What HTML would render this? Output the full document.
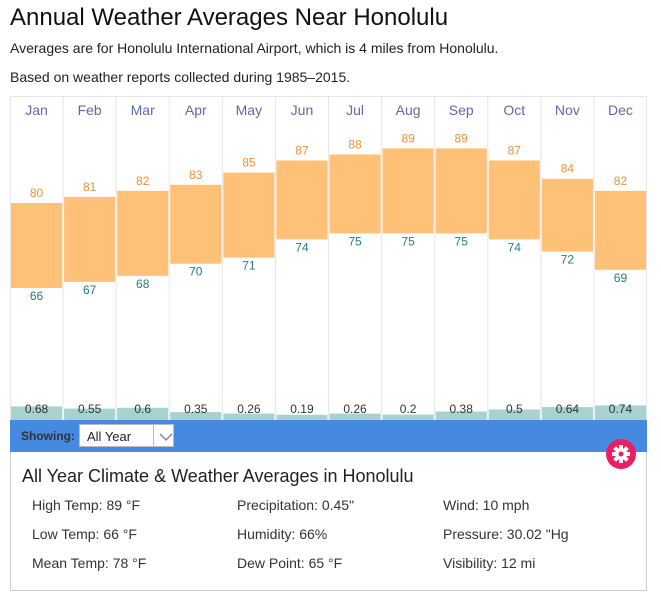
<!DOCTYPE html>
<html><head><meta charset="utf-8"><style>
body{margin:0;background:#fff;font-family:"Liberation Sans",Arial,sans-serif;color:#222;width:661px;height:606px;overflow:hidden;position:relative}
.t{position:absolute;left:10px;top:4px;font-size:24px;color:#111}
.s{position:absolute;left:10px;font-size:14px;color:#222}
#bar{position:absolute;left:10px;top:420px;width:637px;height:32px;background:#4589e0}
#panel{position:absolute;left:10px;top:452px;width:635px;height:138px;border:1px solid #ccc;border-top:none}
.sh{position:absolute;left:11px;top:9px;font-size:12px;font-weight:bold;color:#333}
.sel{position:absolute;left:69px;top:4px;width:95px;height:23px;background:#fff;border:1px solid #bbb;box-sizing:border-box;font-size:13px}
.sel span{position:absolute;left:7px;top:4px}
.sel i{position:absolute;left:73px;top:0;width:1px;height:21px;background:#bbb}
.gear{position:absolute;left:606px;top:439px;width:30px;height:30px;border-radius:50%;background:#e91e63}
.ph{position:absolute;left:11px;top:14px;font-size:18px;color:#222}
.c{position:absolute;font-size:14px;color:#333}
</style></head><body>
<div class="t">Annual Weather Averages Near Honolulu</div>
<div class="s" style="top:40px">Averages are for Honolulu International Airport, which is 4 miles from Honolulu.</div>
<div class="s" style="top:69px">Based on weather reports collected during 1985–2015.</div>
<svg id="ch" width="661" height="420" style="position:absolute;left:0;top:0"></svg>
<div id="bar"><div class="sh">Showing:</div><div class="sel"><span>All Year</span><i></i>
<svg width="20" height="20" style="position:absolute;left:76px;top:2px"><polyline points="4,7 10,13 16,7" fill="none" stroke="#888" stroke-width="1.5"/></svg></div></div>
<div class="gear"><svg width="30" height="30"><g transform="translate(15,15)" fill="#fff"><circle r="6"/><g id="tt"><rect x="-2" y="-9" width="4" height="5"/></g><use href="#tt" transform="rotate(45)"/><use href="#tt" transform="rotate(90)"/><use href="#tt" transform="rotate(135)"/><use href="#tt" transform="rotate(180)"/><use href="#tt" transform="rotate(225)"/><use href="#tt" transform="rotate(270)"/><use href="#tt" transform="rotate(315)"/><circle r="2.5" fill="#e91e63"/></g></svg></div>
<div id="panel">
<div class="ph">All Year Climate &amp; Weather Averages in Honolulu</div>
<div class="c" style="left:21px;top:45px">High Temp: 89 °F</div>
<div class="c" style="left:21px;top:74px">Low Temp: 66 °F</div>
<div class="c" style="left:21px;top:103px">Mean Temp: 78 °F</div>
<div class="c" style="left:226px;top:45px">Precipitation: 0.45"</div>
<div class="c" style="left:226px;top:74px">Humidity: 66%</div>
<div class="c" style="left:226px;top:103px">Dew Point: 65 °F</div>
<div class="c" style="left:432px;top:45px">Wind: 10 mph</div>
<div class="c" style="left:432px;top:74px">Pressure: 30.02 "Hg</div>
<div class="c" style="left:432px;top:103px">Visibility: 12 mi</div>
</div>
<script>
var m=["Jan","Feb","Mar","Apr","May","Jun","Jul","Aug","Sep","Oct","Nov","Dec"],
hi=[80,81,82,83,85,87,88,89,89,87,84,82],lo=[66,67,68,70,71,74,75,75,75,74,72,69],
p=["0.68","0.55","0.6","0.35","0.26","0.19","0.26","0.2","0.38","0.5","0.64","0.74"];
var w=637/12,s='<rect x="10.5" y="96.5" width="636" height="330" fill="none" stroke="#e6e6e6"/>';
function y(t){return 203-(t-80)*6.07}
for(var i=0;i<12;i++){var x=10+i*w,c=x+w/2,a=y(hi[i]),b=y(lo[i]),ph=parseFloat(p[i])*17;
if(i>0)s+='<line x1="'+x+'" y1="96" x2="'+x+'" y2="420" stroke="#e6e6e6"/>';
s+='<text x="'+c+'" y="115" text-anchor="middle" font-size="14" fill="#5c6ba6" font-family="Liberation Sans,Arial,sans-serif">'+m[i]+'</text>';
s+='<rect x="'+(x+1)+'" y="'+a+'" width="'+(w-2)+'" height="'+(b-a)+'" fill="#ffc078"/>';
s+='<text x="'+c+'" y="'+(a-6)+'" text-anchor="middle" font-size="12" fill="#e8913a" font-family="Liberation Sans,Arial,sans-serif">'+hi[i]+'</text>';
s+='<text x="'+c+'" y="'+(b+12)+'" text-anchor="middle" font-size="12" fill="#2a7a86" font-family="Liberation Sans,Arial,sans-serif">'+lo[i]+'</text>';
s+='<rect x="'+(x+1)+'" y="'+(418-ph)+'" width="'+(w-2)+'" height="'+(ph+2)+'" fill="#a6d3cf"/>';
s+='<text x="'+c+'" y="413" text-anchor="middle" font-size="12" fill="#333" font-family="Liberation Sans,Arial,sans-serif">'+p[i]+'</text>';}
document.getElementById('ch').innerHTML=s;
</script>
</body></html>
